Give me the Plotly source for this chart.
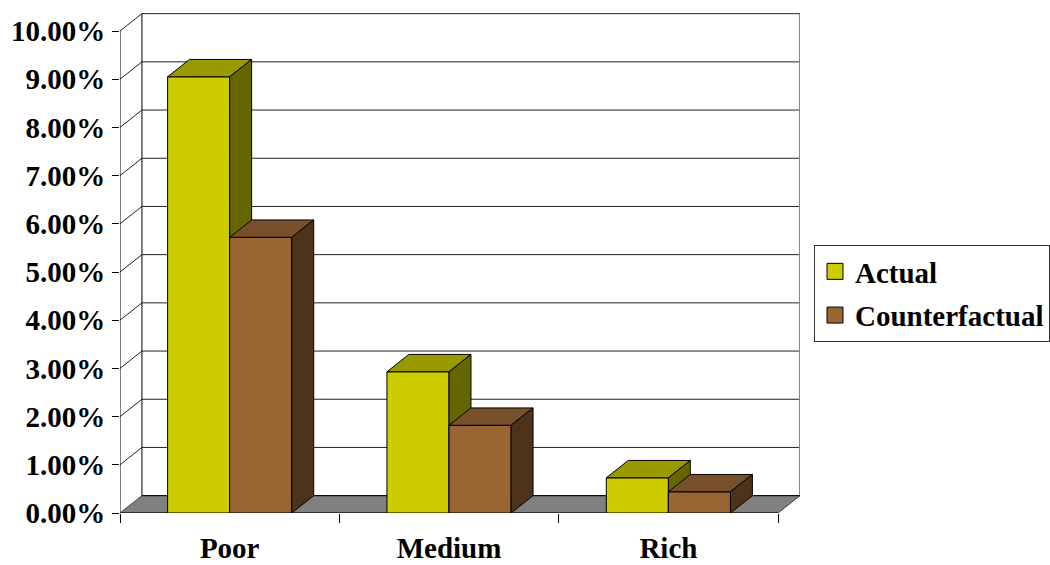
import plotly.graph_objects as go

# ---- data ----
categories = ["Poor", "Medium", "Rich"]
series_names = ["Actual", "Counterfactual"]
actual = [0.0905, 0.0293, 0.0073]
counterfactual = [0.0572, 0.0182, 0.0044]
y_ticks = [0.0, 0.01, 0.02, 0.03, 0.04, 0.05, 0.06, 0.07, 0.08, 0.09, 0.10]

# ---- styling / geometry ----
FONT = dict(family="Liberation Serif, Times New Roman, serif", size=29, color="black", weight="bold")
colors = {
    "Actual": dict(front="#CCCC00", top="#999900", side="#666600"),
    "Counterfactual": dict(front="#996633", top="#77502B", side="#4D3319"),
}
W = 0.283       # bar width (category units)
DX = 0.1        # depth offset in x (category units)
DY = 0.0036     # depth offset in y (value units)
x_left = -0.5
x_right = len(categories) - 0.5
y_top = y_ticks[-1]

fig = go.Figure()

def poly_trace(xs, ys, fill, line_color="black", line_width=1):
    return go.Scatter(x=xs, y=ys, mode="lines", fill="toself", fillcolor=fill,
                      line=dict(color=line_color, width=line_width),
                      showlegend=False, hoverinfo="skip", cliponaxis=False)

def line_trace(xs, ys, color, width=1):
    return go.Scatter(x=xs, y=ys, mode="lines", line=dict(color=color, width=width),
                      showlegend=False, hoverinfo="skip", cliponaxis=False)

# back wall
fig.add_trace(poly_trace([x_left + DX, x_left + DX, x_right + DX, x_right + DX, x_left + DX],
                         [DY, y_top + DY, y_top + DY, DY, DY], "white", "rgba(0,0,0,0)", 0))
# left wall
fig.add_trace(poly_trace([x_left, x_left, x_left + DX, x_left + DX, x_left],
                         [0, y_top, y_top + DY, DY, 0], "white", "rgba(0,0,0,0)", 0))
# gridlines on walls
gx, gy = [], []
for v in y_ticks[1:]:
    gx += [x_left, x_left + DX, x_right + DX, None]
    gy += [v, v + DY, v + DY, None]
fig.add_trace(line_trace(gx, gy, "#222222", 1))
# wall edges
fig.add_trace(line_trace([x_left + DX, x_left + DX], [DY, y_top + DY], "black", 1))
fig.add_trace(line_trace([x_right + DX, x_right + DX], [DY, y_top + DY], "#888888", 2))
fig.add_trace(line_trace([x_left, x_left], [0, y_top], "black", 1))
# floor
fig.add_trace(poly_trace([x_left, x_right, x_right + DX, x_left + DX, x_left],
                         [0, 0, DY, DY, 0], "#808080", "#444444", 1))
fig.add_trace(line_trace([x_left + DX, x_right + DX], [DY, DY], "black", 1))
fig.add_trace(line_trace([x_left, x_right], [0, 0], "black", 1))

# bars (3D faces)
for si, (name, vals) in enumerate(zip(series_names, [actual, counterfactual])):
    offset = -W + si * W
    fx, fy, tx, ty, sx, sy = [], [], [], [], [], []
    for ci, v in enumerate(vals):
        x0 = ci + offset
        x1 = x0 + W
        fx += [x0, x0, x1, x1, x0, None]
        fy += [0, v, v, 0, 0, None]
        tx += [x0, x0 + DX, x1 + DX, x1, x0, None]
        ty += [v, v + DY, v + DY, v, v, None]
        sx += [x1, x1, x1 + DX, x1 + DX, x1, None]
        sy += [0, v, v + DY, DY, 0, None]
    c = colors[name]
    fig.add_trace(poly_trace(fx, fy, c["front"]))
    fig.add_trace(poly_trace(tx, ty, c["top"]))
    fig.add_trace(poly_trace(sx, sy, c["side"]))

# legend entries
for name in series_names:
    fig.add_trace(go.Scatter(x=[None], y=[None], mode="markers", name=name,
                             legendgroup=name,
                             marker=dict(symbol="square", size=16, color=colors[name]["front"],
                                         line=dict(color="black", width=1))))

L, R, T, B = 120, 250, 13, 52
plot_w = 1050 - L - R
plot_h = 565 - T - B
px_per_unit_y = 48.2 / 0.01

fig.update_layout(
    width=1050, height=565,
    margin=dict(l=L, r=R, t=T, b=B, autoexpand=False),
    paper_bgcolor="white", plot_bgcolor="white",
    font=FONT,
    showlegend=True,
    legend=dict(x=1 + 14 / plot_w, y=(513 - 245) / plot_h, xanchor="left", yanchor="top",
                bordercolor="#333333", borderwidth=1, bgcolor="white",
                font=FONT, tracegroupgap=3, itemsizing="trace"),
    xaxis=dict(range=[x_left, x_right + DX], tickmode="array",
               tickvals=list(range(len(categories))), ticktext=categories,
               ticks="", showgrid=False, zeroline=False, showline=False,
               ticklabelstandoff=15, tickfont=FONT,
               minor=dict(tickmode="array", tickvals=[i - 0.5 for i in range(len(categories) + 1)],
                          ticks="outside", ticklen=9, tickcolor="black", tickwidth=1, showgrid=False)),
    yaxis=dict(range=[0, plot_h / px_per_unit_y], tickmode="array", tickvals=y_ticks,
               tickformat=".2%", ticks="outside", ticklen=7, tickcolor="black", tickwidth=1,
               showgrid=False, zeroline=False, showline=False,
               ticklabelstandoff=1, tickfont=FONT),
)

fig.write_html("out.html")
